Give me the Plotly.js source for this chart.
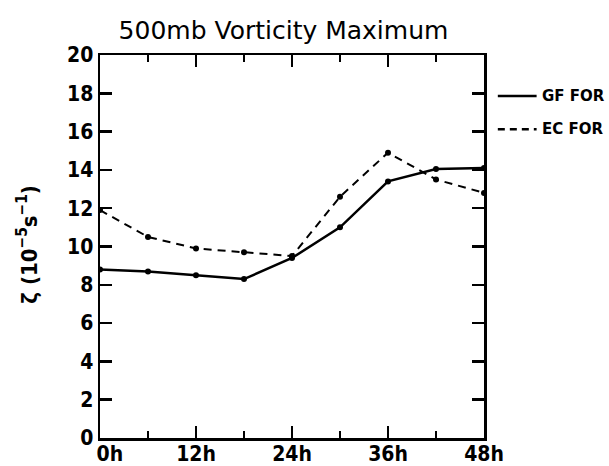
<!DOCTYPE html>
<html>
<head>
<meta charset="utf-8">
<script src="https://cdn.plot.ly/plotly-3.0.1.min.js"></script>
<style>html,body{margin:0;padding:0;background:#fff;}#chart{width:609px;height:466px;}</style>
</head>
<body>
<div id="chart"></div>
<script>
var hours = [0, 6, 12, 18, 24, 30, 36, 42, 48];
var gfFor = [8.8, 8.7, 8.5, 8.3, 9.4, 11.0, 13.4, 14.05, 14.1];
var ecFor = [11.9, 10.5, 9.9, 9.7, 9.5, 12.6, 14.9, 13.5, 12.8];
var xTickVals = [0, 12, 24, 36, 48];
var xTickText = ['\u00a0\u00a0\u00a00h', '12h', '24h', '36h', '48h'];
var yTickVals = [0, 2, 4, 6, 8, 10, 12, 14, 16, 18, 20];
var seriesNames = ['GF FOR', 'EC FOR'];

var condFam = '"DejaVu Sans Condensed", "Liberation Sans Narrow", "Roboto Condensed", sans-serif';
var tickFont = {family: condFam, size: 21, color: '#000', weight: 700};

var traces = [
  {x: hours, y: gfFor, mode: 'lines+markers', name: seriesNames[0],
   line: {color: '#000', width: 2.5, dash: 'solid'}, marker: {color: '#000', size: 6}},
  {x: hours, y: ecFor, mode: 'lines+markers', name: seriesNames[1],
   line: {color: '#000', width: 2, dash: '8px,6px'}, marker: {color: '#000', size: 6}}
];

var layout = {
  width: 609, height: 466,
  margin: {l: 100, r: 125, t: 55, b: 28, pad: 0},
  paper_bgcolor: '#fff', plot_bgcolor: '#fff',
  showlegend: false,
  title: {text: '500mb Vorticity Maximum', x: 0.4655, xanchor: 'center', y: 0.936, yanchor: 'middle',
          font: {family: '"DejaVu Sans", sans-serif', size: 25, color: '#000'}},
  xaxis: {range: [0, 48], tickvals: xTickVals, ticktext: xTickText, ticks: 'inside', ticklen: 12, tickwidth: 2.5,
          tickcolor: '#000', showline: true, linewidth: 2.5, linecolor: '#000', mirror: 'ticks',
          showgrid: false, zeroline: false, tickfont: tickFont, ticklabelstandoff: -5,
          minor: {dtick: 6, tick0: 0, ticks: 'inside', ticklen: 7, tickwidth: 2.5, tickcolor: '#000', showgrid: false}},
  yaxis: {range: [0, 20], tickvals: yTickVals, ticks: 'inside', ticklen: 12, tickwidth: 2.5,
          tickcolor: '#000', showline: true, linewidth: 2.5, linecolor: '#000', mirror: 'ticks',
          showgrid: false, zeroline: false, tickfont: tickFont},
  annotations: [
    {xref: 'paper', yref: 'paper', x: -0.19, y: 0.505, text: 'ζ (10<sup>−5</sup>s<sup>−1</sup>)', showarrow: false,
     textangle: -90, xanchor: 'center', yanchor: 'middle',
     font: {family: condFam, size: 22, color: '#000', weight: 700}},
    {xref: 'paper', yref: 'paper', x: 1.145, y: 0.893, text: '<b>' + seriesNames[0] + '</b>', showarrow: false,
     xanchor: 'left', yanchor: 'middle', font: {family: '"DejaVu Sans", sans-serif', size: 15, color: '#000'}},
    {xref: 'paper', yref: 'paper', x: 1.145, y: 0.806, text: '<b>' + seriesNames[1] + '</b>', showarrow: false,
     xanchor: 'left', yanchor: 'middle', font: {family: '"DejaVu Sans", sans-serif', size: 15, color: '#000'}}
  ],
  shapes: [
    {type: 'line', xref: 'paper', yref: 'paper', x0: 1.036, x1: 1.137, y0: 0.893, y1: 0.893,
     line: {color: '#000', width: 2.5}},
    {type: 'line', xref: 'paper', yref: 'paper', x0: 1.036, x1: 1.137, y0: 0.806, y1: 0.806,
     line: {color: '#000', width: 2.5, dash: '7px,5px'}}
  ]
};

Plotly.newPlot('chart', traces, layout, {displayModeBar: false, staticPlot: true});
</script>
</body>
</html>
